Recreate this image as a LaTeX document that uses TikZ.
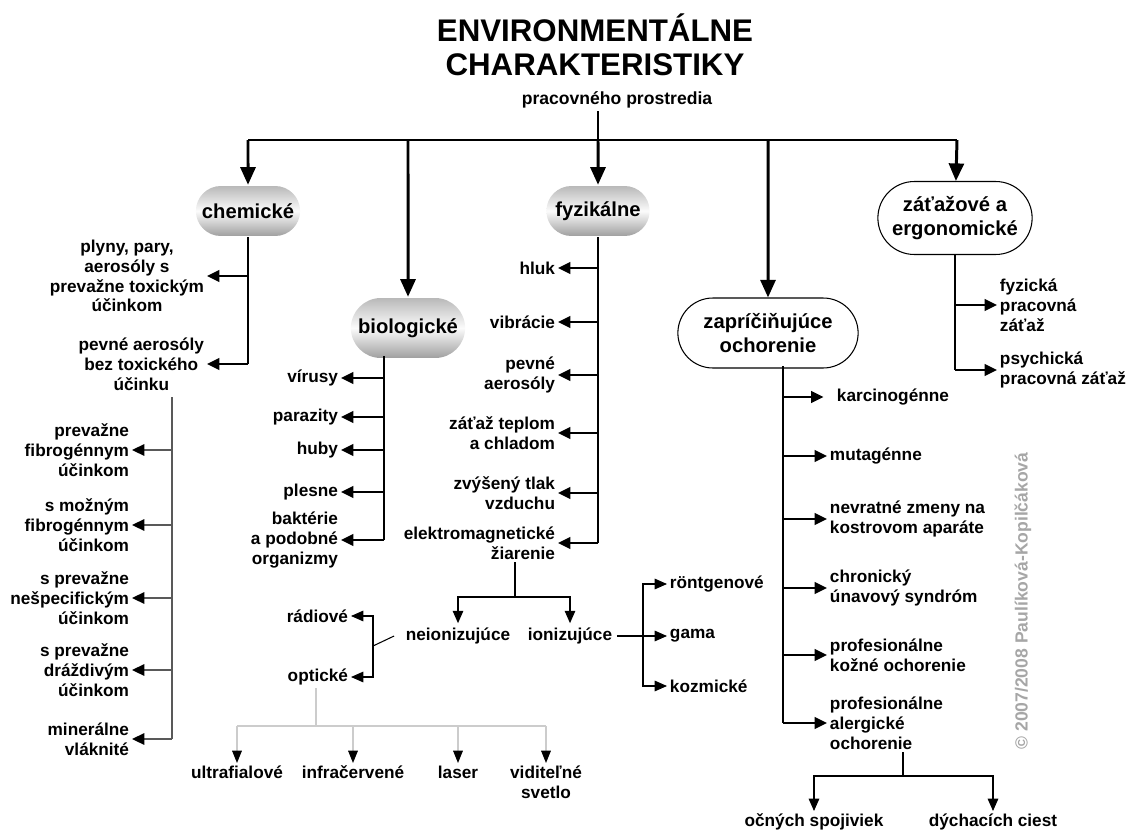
\documentclass[tikz,border=0pt]{standalone}
\usepackage{fontspec}
\setmainfont{Liberation Sans}
\usetikzlibrary{arrows.meta,shapes.misc,positioning}

\tikzset{
every picture/.style={
line width=1.4pt
},
item/.style={font=\fontsize{9.8}{11.3}\selectfont\bfseries, inner sep=1pt},
lbox/.style={item, anchor=east, align=right},
rbox/.style={item, anchor=west, align=left},
cbox/.style={item, align=center},
pill/.style={rounded rectangle, font=\fontsize{11.5}{13.5}\selectfont\bfseries, align=center},
gpill/.style={pill, top color=gray!55, bottom color=gray!75, middle color=gray!3, minimum width=2.32cm, minimum height=1cm},
wpill/.style={pill, draw, line width=0.6pt, fill=white},
big/.style={line width=1.7pt, -{Triangle[length=10pt,width=8.5pt]}},
arr/.style={-{Triangle[length=7pt,width=6.5pt]}},
thinline/.style={line width=0.6pt},
thinarr/.style={thinline, -{Triangle[length=7pt,width=6pt]}},
greyline/.style={draw=black!65, line width=1pt},
greyarr/.style={greyline, -{Triangle[length=7pt,width=6.5pt,color=black]}},
paleline/.style={draw=black!20, line width=0.6pt},
palearr/.style={paleline, -{Triangle[length=7pt,width=5.5pt,color=black]}}
}

\begin{document}
\begin{tikzpicture}[x=0.02cm, y=-0.02cm]
  \useasboundingbox (0,0) rectangle (1133,835);

  % title
  \node (ttl) [font=\fontsize{17.8}{19.3}\selectfont\bfseries, align=center, inner sep=0pt] at (595,45) {ENVIRONMENTÁLNE\\CHARAKTERISTIKY};
  \node (sub) [item, font=\fontsize{10}{12}\selectfont\bfseries] at (617,100) {pracovného prostredia};
  \coordinate (bus) at (598,140);
  \coordinate (busL) at (248,140);
  \coordinate (busR) at (957,140);

  % main groups
  \node (chem) [gpill] at (248,211) {chemické};
  \node (bio) [gpill, minimum width=2.52cm, minimum height=1.2cm] at (408,328) {biologické};
  \node (fyz) [gpill, minimum width=2.3cm] at (598,211) {fyzikálne};
  \node (zapr) [wpill, minimum width=3.84cm, minimum height=1.4cm] at (768,333) {zapríčiňujúce\\ochorenie};
  \node (zat) [wpill, minimum width=3.32cm, minimum height=1.46cm] at (955,218) {záťažové a\\ergonomické};

  \draw [line width=1.7pt] (bus |- sub.south) -- (bus);
  \draw [line width=1.7pt] (busL) -- (busR);
  \draw [big] (busL) -- (chem);
  \draw [big] (bio |- busL) -- (bio);
  \draw [big] (bus) -- (fyz);
  \draw [big] (zapr |- busL) -- (zapr);
  \draw [big] (busR) -- (zat);

  % chemicke
  \node (c1) [cbox, anchor=east] at (207,276) {plyny, pary,\\aerosóly s\\prevažne toxickým\\účinkom};
  \node (c2) [cbox, anchor=east] at (207,364) {pevné aerosóly\\bez toxického\\účinku};
  \draw (chem.south) -- (chem.south |- c2);
  \draw [arr] (chem.south |- c1) -- (c1);
  \draw [arr] (chem.south |- c2) -- (c2);

  \coordinate (cfork) at (172,397);
  \node (l1) [lbox] at (132,450) {prevažne\\fibrogénnym\\účinkom};
  \node (l2) [lbox] at (132,525) {s možným\\fibrogénnym\\účinkom};
  \node (l3) [lbox] at (132,598) {s prevažne\\nešpecifickým\\účinkom};
  \node (l4) [lbox] at (132,670) {s prevažne\\dráždivým\\účinkom};
  \node (l5) [lbox] at (132,739) {minerálne\\vláknité};
  \draw [greyline] (cfork) -- (cfork |- l5);
  \draw [greyarr] (cfork |- l1) -- (l1);
  \draw [greyarr] (cfork |- l2) -- (l2);
  \draw [greyarr] (cfork |- l3) -- (l3);
  \draw [greyarr] (cfork |- l4) -- (l4);
  \draw [greyarr] (cfork |- l5) -- (l5);

  % biologicke
  \coordinate (bfork) at (384,356);
  \node (b1) [lbox] at (341,378) {vírusy};
  \node (b2) [lbox] at (341,417) {parazity};
  \node (b3) [lbox] at (341,450) {huby};
  \node (b4) [lbox] at (341,492) {plesne};
  \node (b5) [lbox] at (341,540) {baktérie\\a podobné\\organizmy};
  \draw (bfork) -- (bfork |- b5);
  \draw [arr] (bfork |- b1) -- (b1);
  \draw [arr] (bfork |- b2) -- (b2);
  \draw [arr] (bfork |- b3) -- (b3);
  \draw [arr] (bfork |- b4) -- (b4);
  \draw [arr] (bfork |- b5) -- (b5);

  % fyzikalne
  \node (f1) [lbox] at (558,268) {hluk};
  \node (f2) [lbox] at (558,322) {vibrácie};
  \node (f3) [lbox] at (558,375) {pevné\\aerosóly};
  \node (f4) [lbox] at (558,433) {záťaž teplom\\a chladom};
  \node (f5) [lbox] at (558,493) {zvýšený tlak\\vzduchu};
  \node (f6) [lbox] at (558,543) {elektromagnetické\\žiarenie};
  \draw (fyz.south) -- (fyz.south |- f6);
  \draw [arr] (fyz.south |- f1) -- (f1);
  \draw [arr] (fyz.south |- f2) -- (f2);
  \draw [arr] (fyz.south |- f3) -- (f3);
  \draw [arr] (fyz.south |- f4) -- (f4);
  \draw [arr] (fyz.south |- f5) -- (f5);
  \draw [arr] (fyz.south |- f6) -- (f6);

  % ziarenie
  \coordinate (efork) at (515,597);
  \node (neion) [item, inner sep=2pt] at (458,636) {neionizujúce};
  \node (ion) [item, inner sep=2pt] at (570,636) {ionizujúce};
  \draw [thinline] (efork |- f6.south) -- (efork);
  \draw [thinarr] (efork) -| (neion);
  \draw [thinarr] (efork) -| (ion);

  \coordinate (nbr) at (373,646);
  \node (radio) [lbox] at (351,616) {rádiové};
  \node (opt) [lbox] at (351,677) {optické};
  \draw [thinline] ([xshift=-4pt]neion.west) -- (nbr);
  \draw [thinarr] (nbr) |- (radio);
  \draw [thinarr] (nbr) |- (opt);

  \coordinate (ofork) at (316,726);
  \node (uv) [cbox, anchor=north] at (237,763) {ultrafialové};
  \node (ir) [cbox, anchor=north] at (353,763) {infračervené};
  \node (las) [cbox, anchor=north] at (458,763) {laser};
  \node (vis) [cbox, anchor=north] at (546,763) {viditeľné\\svetlo};
  \draw [paleline] (ofork |- opt.south) -- (ofork);
  \draw [paleline] (ofork -| uv) -- (ofork -| vis);
  \draw [palearr] (ofork -| uv) -- (uv);
  \draw [palearr] (ofork -| ir) -- (ir);
  \draw [palearr] (ofork -| las) -- (las);
  \draw [palearr] (ofork -| vis) -- (vis);

  \coordinate (ibr) at (643,636);
  \node (rtg) [rbox] at (667,584) {röntgenové};
  \node (gama) [rbox] at (667,636) {gama};
  \node (kozm) [rbox] at (667,686) {kozmické};
  \draw [thinline] (ion.east) -- (ibr);
  \draw [thinarr] (ibr) |- (rtg);
  \draw [thinarr] (ibr) -- (gama);
  \draw [thinarr] (ibr) |- (kozm);

  % zapricinujuce ochorenie
  \coordinate (zfork) at (783,366);
  \node (z1) [rbox] at (834,397) {karcinogénne};
  \node (z2) [rbox] at (827,456) {mutagénne};
  \node (z3) [rbox] at (827,519) {nevratné zmeny na\\kostrovom aparáte};
  \node (z4) [rbox] at (827,588) {chronický\\únavový syndróm};
  \node (z5) [rbox] at (827,655) {profesionálne\\kožné ochorenie};
  \node (z6) [rbox] at (827,723) {profesionálne\\alergické\\ochorenie};
  \draw (zfork) -- (zfork |- z6);
  \draw [arr] (zfork |- z1) -- ([xshift=-6pt]z1.west);
  \draw [arr] (zfork |- z2) -- (z2);
  \draw [arr] (zfork |- z3) -- (z3);
  \draw [arr] (zfork |- z4) -- (z4);
  \draw [arr] (zfork |- z5) -- (z5);
  \draw [arr] (zfork |- z6) -- (z6);

  \coordinate (afork) at (903,776);
  \node (ocn) [cbox, anchor=north] at (814,811) {očných spojiviek};
  \node (dych) [cbox, anchor=north] at (993,811) {dýchacích ciest};
  \draw [thinline] (afork |- z6.south) -- (afork);
  \draw [thinarr] (afork) -| (ocn);
  \draw [thinarr] (afork) -| (dych);

  % zatazove
  \node (g1) [rbox] at (997,305) {fyzická\\pracovná\\záťaž};
  \node (g2) [rbox] at (997,370) {psychická\\pracovná záťaž};
  \draw (zat.south) -- (zat.south |- g2);
  \draw [arr] (zat.south |- g1) -- (g1);
  \draw [arr] (zat.south |- g2) -- (g2);

  \node (copy) [font=\fontsize{10}{12}\selectfont\bfseries, text=black!35, rotate=90] at (1023,601) {© 2007/2008 Paulíková-Kopilčáková};

\end{tikzpicture}
\end{document}
